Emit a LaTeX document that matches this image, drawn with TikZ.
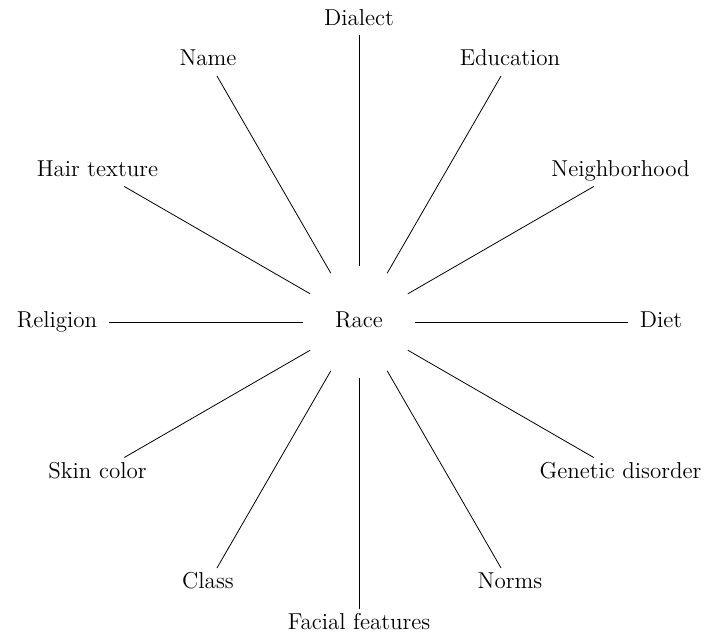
\documentclass[tikz,border=0pt]{standalone}

\begin{document}
\begin{tikzpicture}[
  every node/.style={font=\fontsize{11.5}{14}\selectfont,
                     text height=8pt, text depth=2.7pt},
  factor/.style={inner xsep=5.5pt, inner ysep=2.2pt},
  hub/.style={circle, minimum size=56pt, inner sep=0pt},
]
\def\rad{151pt}
\useasboundingbox (-179.5pt,-157.5pt) rectangle (175.5pt,161pt);

% ── centre ──────────────────────────
\node[hub] (race) at (0,0) {Race};

% ── factors, clockwise from the top ─
\node[factor] (dialect)   at (90:\rad)  {Dialect};
\node[factor] (education) at (60:\rad)  {Education};
\node[factor] (neighb)    at (30:\rad)  {Neighborhood};
\node[factor] (diet)      at (0:\rad)   {Diet};
\node[factor] (genetic)   at (-30:\rad) {Genetic disorder};
\node[factor] (norms)     at (-60:\rad) {Norms};
\node[factor] (facial)    at (-90:\rad) {Facial features};
\node[factor] (class)     at (240:\rad) {Class};
\node[factor] (skin)      at (210:\rad) {Skin color};
\node[factor] (religion)  at (180:\rad) {Religion};
\node[factor] (hair)      at (150:\rad) {Hair texture};
\node[factor] (name)      at (120:\rad) {Name};

% ── spokes ──────────────────────────
\draw (race) -- (dialect);
\draw (race) -- (education);
\draw (race) -- (neighb);
\draw (race) -- (diet);
\draw (race) -- (genetic);
\draw (race) -- (norms);
\draw (race) -- (facial);
\draw (race) -- (class);
\draw (race) -- (skin);
\draw (race) -- (religion);
\draw (race) -- (hair);
\draw (race) -- (name);

\end{tikzpicture}
\end{document}
